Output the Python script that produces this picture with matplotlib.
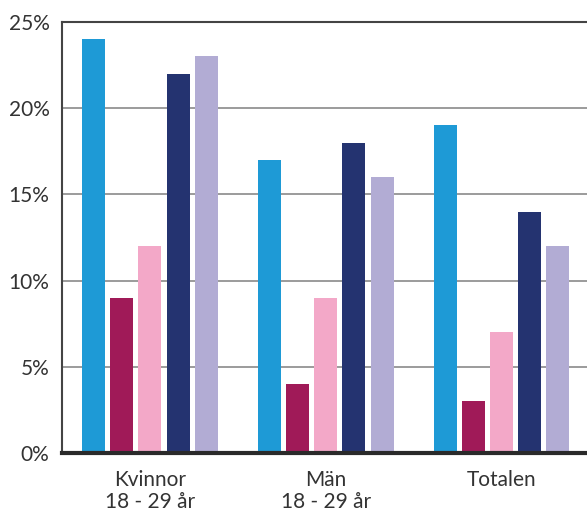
import matplotlib
matplotlib.use("Agg")
import matplotlib.pyplot as plt
import numpy as np

# data
groups = ["Kvinnor\n18 - 29 år", "Män\n18 - 29 år", "Totalen"]
series_a = [24, 17, 19]
series_b = [9, 4, 3]
series_c = [12, 9, 7]
series_d = [22, 18, 14]
series_e = [23, 16, 12]
yticks = [0, 5, 10, 15, 20, 25]
ytick_labels = ["0%", "5%", "10%", "15%", "20%", "25%"]

colors = ["#1e9ad6", "#a01a58", "#f3a8c8", "#243370", "#b2acd4"]

plt.rcParams['font.family'] = ['Lato', 'DejaVu Sans']

fig = plt.figure(figsize=(5.87, 5.12), dpi=100)
ax = fig.add_axes([62 / 587, 59 / 512, 525 / 587, 431 / 512])

x = np.arange(len(groups))
width = 0.131
step = 0.16
all_series = [series_a, series_b, series_c, series_d, series_e]
for i, (vals, c) in enumerate(zip(all_series, colors)):
    ax.bar(x + (i - 2) * step, vals, width=width, color=c, zorder=3)

ax.set_xlim(-0.5, 2.485)
ax.set_ylim(0, 25)
ax.set_yticks(yticks)
ax.set_yticklabels(ytick_labels)
ax.set_xticks(x)
ax.set_xticklabels(groups, linespacing=1.15)

ax.yaxis.grid(True, color="#8a8a8a", linewidth=1.2, zorder=0)
ax.tick_params(axis="both", length=0, labelsize=15, colors="#333333")
ax.tick_params(axis="y", pad=9)
ax.tick_params(axis="x", pad=12)

ax.spines["right"].set_visible(False)
ax.spines["top"].set_color("#444444")
ax.spines["top"].set_linewidth(1.5)
ax.spines["left"].set_color("#444444")
ax.spines["left"].set_linewidth(1.5)
ax.spines["bottom"].set_color("#2a2a2a")
ax.spines["bottom"].set_linewidth(3)
ax.spines["bottom"].set_zorder(5)

plt.savefig("out.png", dpi=100)
plt.close()
